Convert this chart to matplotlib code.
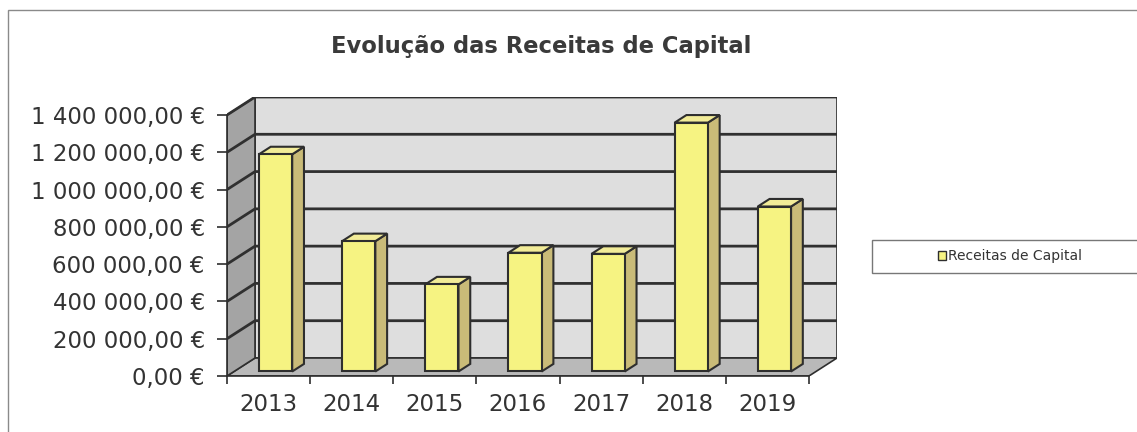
import matplotlib
matplotlib.use("Agg")
import matplotlib.pyplot as plt
from matplotlib.patches import Polygon, Rectangle
from matplotlib.patches import Patch

# ---- data ----
years = ["2013", "2014", "2015", "2016", "2017", "2018", "2019"]
receitas = [1165000, 699000, 467000, 637000, 631000, 1335000, 885000]
y_ticks = [0, 200000, 400000, 600000, 800000, 1000000, 1200000, 1400000]
y_labels = ["0,00 €", "200 000,00 €", "400 000,00 €", "600 000,00 €",
            "800 000,00 €", "1 000 000,00 €", "1 200 000,00 €", "1 400 000,00 €"]
title = "Evolução das Receitas de Capital"
series_name = "Receitas de Capital"

# ---- style ----
W, H = 1137, 432
fig = plt.figure(figsize=(W / 100, H / 100), dpi=100)
fig.patch.set_facecolor("white")

ymax = y_ticks[-1]
n = len(years)
DX = 0.337            # depth offset in category units
DY = 0.069 * ymax     # depth offset in value units
BAR_F = 0.25          # bar position in depth
BAR_D = 0.42          # bar depth fraction
BW = 0.40             # bar width

ax = fig.add_axes([227 / W, 56 / H, 610 / W, 279 / H])
ax.set_xlim(-0.5, n - 0.5 + DX)
ax.set_ylim(0, ymax + DY)
ax.set_facecolor("none")

edge = "#2e2e2e"
x0, x1 = -0.5, n - 0.5
# back wall
ax.add_patch(Polygon([(x0 + DX, DY), (x1 + DX, DY), (x1 + DX, ymax + DY), (x0 + DX, ymax + DY)],
                     closed=True, facecolor="#dedede", edgecolor=edge, lw=1.2, zorder=1))
# floor
ax.add_patch(Polygon([(x0, 0), (x1, 0), (x1 + DX, DY), (x0 + DX, DY)],
                     closed=True, facecolor="#b9b9b9", edgecolor=edge, lw=1.2, zorder=1))
# side wall
ax.add_patch(Polygon([(x0, 0), (x0 + DX, DY), (x0 + DX, ymax + DY), (x0, ymax)],
                     closed=True, facecolor="#a4a4a4", edgecolor=edge, lw=1.2, zorder=1))
# gridlines
for v in y_ticks[1:]:
    ax.plot([x0, x0 + DX, x1 + DX], [v, v + DY, v + DY], color="#303030", lw=2.0, zorder=2,
            solid_capstyle="butt")

# bars
xs = [i + BAR_F * DX for i in range(n)]
base = BAR_F * DY
bars = ax.bar(xs, receitas, width=BW, bottom=base, color="#f6f382", edgecolor=edge,
              linewidth=1.5, zorder=5)
bdx, bdy = BAR_D * DX, BAR_D * DY
for xc, v in zip(xs, receitas):
    l, r = xc - BW / 2, xc + BW / 2
    top = base + v
    ax.add_patch(Polygon([(r, base), (r, top), (r + bdx, top + bdy), (r + bdx, base + bdy)],
                         closed=True, facecolor="#c9bb78", edgecolor=edge, lw=1.5, zorder=4))
    ax.add_patch(Polygon([(l, top), (r, top), (r + bdx, top + bdy), (l + bdx, top + bdy)],
                         closed=True, facecolor="#f2ec98", edgecolor=edge, lw=1.5, zorder=4))

# axes / ticks
for s in ["top", "right"]:
    ax.spines[s].set_visible(False)
ax.spines["left"].set_bounds(0, ymax)
ax.spines["bottom"].set_bounds(x0, x1)
for s in ["left", "bottom"]:
    ax.spines[s].set_color(edge)
    ax.spines[s].set_linewidth(1.2)
    ax.spines[s].set_zorder(6)

ax.set_yticks(y_ticks)
ax.set_yticklabels(y_labels)
ax.set_xticks(range(n))
ax.set_xticklabels(years)
ax.set_xticks([i - 0.5 for i in range(n + 1)], minor=True)
ax.tick_params(axis="x", which="major", length=0, pad=12, labelsize=16.5, labelcolor="#333333")
ax.tick_params(axis="x", which="minor", length=6, width=1.2, color=edge)
ax.tick_params(axis="y", length=7, width=1.2, color=edge, pad=9, labelsize=16.5, labelcolor="#333333")

fig.text(541 / W, 1 - 47 / H, title, ha="center", va="center", fontsize=16.3,
         fontweight="bold", color="#3a3a3a")

# outer border
fig.patches.append(Rectangle((8 / W, -0.1), 1.2, 1 - 10 / H + 0.1, transform=fig.transFigure,
                             facecolor="none", edgecolor="#8a8a8a", lw=1.0))
# legend box
fig.patches.append(Rectangle((872 / W, 1 - 273 / H), 300 / W, 33 / H, transform=fig.transFigure,
                             facecolor="white", edgecolor="#777777", lw=1.0))
handle = Patch(facecolor="#f6f382", edgecolor=edge, lw=1.0)
fig.legend([handle], [series_name], loc="center", bbox_to_anchor=(1010 / W, 1 - 256 / H),
           frameon=False, fontsize=10, handlelength=0.6, handleheight=0.6, handletextpad=0.1,
           labelcolor="#333333")

fig.savefig("out.png", dpi=100)
